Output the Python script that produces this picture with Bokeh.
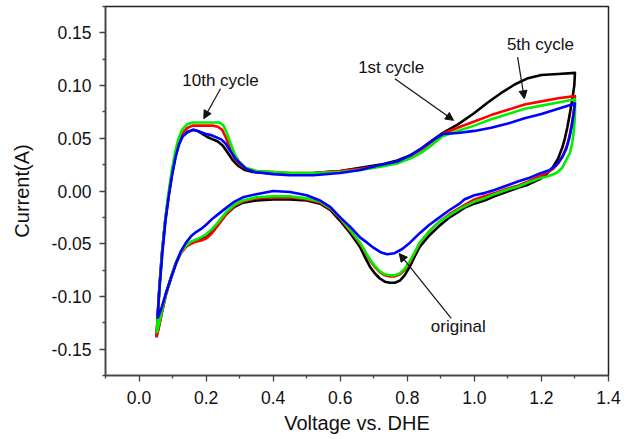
from bokeh.plotting import figure
from bokeh.models import Range1d, FixedTicker, PrintfTickFormatter, Label, Arrow, NormalHead
from bokeh.embed import file_html
from bokeh.resources import INLINE

# ---------------- data (Voltage vs. DHE, Current in A) ----------------
orig_x = [0.052, 0.060, 0.068, 0.078, 0.088, 0.098, 0.108, 0.118, 0.130, 0.145, 0.160, 0.175, 0.190, 0.205,
          0.220, 0.235, 0.250, 0.265, 0.280, 0.295, 0.315, 0.340, 0.380, 0.450, 0.520, 0.600, 0.660, 0.720,
          0.770, 0.810, 0.845, 0.875, 0.905, 0.950, 1.000, 1.040, 1.080, 1.120, 1.160, 1.200, 1.250, 1.300,
          1.298, 1.291, 1.284, 1.277, 1.270, 1.262, 1.250, 1.235, 1.215, 1.194, 1.160, 1.130, 1.095, 1.060,
          1.030, 1.000, 0.970, 0.956, 0.926, 0.896, 0.866, 0.837, 0.822, 0.807, 0.792, 0.778, 0.763, 0.748,
          0.733, 0.718, 0.703, 0.689, 0.674, 0.659, 0.630, 0.599, 0.570, 0.540, 0.500, 0.450, 0.400, 0.350,
          0.310, 0.285, 0.260, 0.235, 0.215, 0.200, 0.185, 0.170, 0.155, 0.140, 0.125, 0.110, 0.095, 0.080,
          0.068, 0.058, 0.052]
orig_y = [-0.138, -0.095, -0.060, -0.028, -0.005, 0.015, 0.032, 0.044, 0.052, 0.056, 0.058, 0.057, 0.054, 0.051,
          0.049, 0.047, 0.043, 0.036, 0.029, 0.024, 0.020, 0.018, 0.017, 0.016, 0.017, 0.019, 0.022, 0.025,
          0.029, 0.034, 0.041, 0.048, 0.055, 0.063, 0.074, 0.084, 0.093, 0.101, 0.107, 0.110, 0.111, 0.112,
          0.100, 0.085, 0.072, 0.060, 0.050, 0.041, 0.031, 0.023, 0.016, 0.011, 0.006, 0.003, -0.001, -0.005,
          -0.009, -0.012, -0.016, -0.019, -0.025, -0.033, -0.042, -0.053, -0.062, -0.072, -0.080, -0.085, -0.087, -0.087,
          -0.086, -0.083, -0.078, -0.072, -0.063, -0.053, -0.040, -0.028, -0.018, -0.012, -0.009, -0.008, -0.008, -0.009,
          -0.011, -0.015, -0.022, -0.032, -0.040, -0.044, -0.046, -0.047, -0.049, -0.052, -0.058, -0.068, -0.082, -0.098,
          -0.115, -0.130, -0.138]

c1_x = [0.052, 0.060, 0.068, 0.078, 0.088, 0.098, 0.108, 0.118, 0.130, 0.145, 0.160, 0.180, 0.200, 0.220,
        0.235, 0.248, 0.260, 0.272, 0.285, 0.300, 0.320, 0.350, 0.400, 0.450, 0.520, 0.600, 0.660, 0.720,
        0.770, 0.810, 0.845, 0.875, 0.905, 0.950, 1.000, 1.050, 1.100, 1.150, 1.200, 1.250, 1.300,
        1.298, 1.292, 1.285, 1.277, 1.266, 1.252, 1.235, 1.215, 1.194, 1.160, 1.130, 1.095, 1.060, 1.030,
        1.000, 0.956, 0.926, 0.896, 0.866, 0.837, 0.822, 0.807, 0.792, 0.778, 0.763, 0.748, 0.733, 0.718,
        0.703, 0.689, 0.674, 0.659, 0.630, 0.599, 0.570, 0.540, 0.500, 0.450, 0.400, 0.350, 0.310, 0.285,
        0.260, 0.235, 0.215, 0.200, 0.185, 0.170, 0.155, 0.140, 0.125, 0.110, 0.095, 0.080, 0.068, 0.058, 0.052]
c1_y = [-0.139, -0.095, -0.060, -0.028, -0.004, 0.017, 0.034, 0.047, 0.055, 0.060, 0.062, 0.062, 0.062, 0.062,
        0.061, 0.058, 0.050, 0.040, 0.031, 0.025, 0.021, 0.019, 0.018, 0.017, 0.017, 0.019, 0.021, 0.024,
        0.028, 0.033, 0.040, 0.047, 0.054, 0.060, 0.066, 0.072, 0.077, 0.082, 0.085, 0.088, 0.090,
        0.080, 0.066, 0.054, 0.044, 0.035, 0.027, 0.021, 0.017, 0.014, 0.009, 0.005, 0.002, -0.002, -0.005,
        -0.008, -0.016, -0.022, -0.029, -0.038, -0.050, -0.059, -0.068, -0.075, -0.079, -0.081, -0.081, -0.080, -0.077,
        -0.072, -0.066, -0.058, -0.050, -0.038, -0.026, -0.017, -0.011, -0.008, -0.006, -0.006, -0.007, -0.010, -0.014,
        -0.022, -0.033, -0.041, -0.045, -0.047, -0.048, -0.050, -0.053, -0.059, -0.069, -0.083, -0.099, -0.116, -0.131, -0.139]

c10_x = [0.053, 0.060, 0.068, 0.077, 0.087, 0.097, 0.107, 0.117, 0.128, 0.142, 0.160, 0.180, 0.200, 0.220,
         0.240, 0.252, 0.262, 0.272, 0.284, 0.298, 0.318, 0.350, 0.400, 0.450, 0.520, 0.600, 0.660, 0.720,
         0.770, 0.810, 0.845, 0.875, 0.905, 0.950, 1.000, 1.050, 1.100, 1.150, 1.200, 1.250, 1.300,
         1.300, 1.297, 1.292, 1.285, 1.275, 1.262, 1.245, 1.220, 1.194, 1.160, 1.130, 1.095, 1.060, 1.030,
         1.000, 0.956, 0.926, 0.896, 0.866, 0.837, 0.822, 0.807, 0.792, 0.778, 0.763, 0.748, 0.733, 0.718,
         0.703, 0.689, 0.674, 0.659, 0.630, 0.599, 0.570, 0.540, 0.500, 0.450, 0.400, 0.350, 0.310, 0.285,
         0.260, 0.235, 0.215, 0.200, 0.185, 0.170, 0.155, 0.140, 0.125, 0.110, 0.095, 0.080, 0.068, 0.058, 0.053]
c10_y = [-0.135, -0.097, -0.062, -0.030, -0.004, 0.018, 0.036, 0.049, 0.058, 0.063, 0.065, 0.065, 0.065, 0.065,
         0.065, 0.062, 0.055, 0.046, 0.036, 0.028, 0.022, 0.019, 0.018, 0.017, 0.017, 0.018, 0.020, 0.023,
         0.026, 0.031, 0.037, 0.044, 0.052, 0.057, 0.062, 0.068, 0.073, 0.078, 0.081, 0.084, 0.087,
         0.072, 0.058, 0.046, 0.036, 0.030, 0.022, 0.017, 0.014, 0.012, 0.008, 0.004, 0.001, -0.003, -0.007,
         -0.010, -0.017, -0.023, -0.029, -0.038, -0.049, -0.058, -0.067, -0.074, -0.078, -0.080, -0.080, -0.079, -0.076,
         -0.071, -0.065, -0.057, -0.049, -0.037, -0.025, -0.016, -0.010, -0.007, -0.005, -0.005, -0.006, -0.009, -0.013,
         -0.020, -0.030, -0.037, -0.041, -0.044, -0.046, -0.048, -0.052, -0.058, -0.068, -0.082, -0.098, -0.114, -0.128, -0.135]

c5_x = [0.055, 0.062, 0.070, 0.079, 0.089, 0.099, 0.109, 0.119, 0.130, 0.145, 0.163, 0.183, 0.200, 0.215,
        0.230, 0.245, 0.258, 0.272, 0.287, 0.302, 0.320, 0.345, 0.400, 0.450, 0.520, 0.600, 0.660, 0.710,
        0.770, 0.810, 0.845, 0.875, 0.906, 0.950, 1.000, 1.050, 1.100, 1.150, 1.200, 1.250, 1.300,
        1.296, 1.290, 1.283, 1.274, 1.262, 1.245, 1.225, 1.194, 1.160, 1.130, 1.095, 1.060, 1.030, 1.000,
        0.970, 0.956, 0.926, 0.896, 0.866, 0.837, 0.808, 0.785, 0.762, 0.740, 0.720, 0.700, 0.680, 0.659,
        0.630, 0.600, 0.570, 0.540, 0.500, 0.450, 0.400, 0.350, 0.310, 0.285, 0.260, 0.240, 0.220, 0.200,
        0.185, 0.170, 0.155, 0.140, 0.125, 0.110, 0.095, 0.080, 0.068, 0.060, 0.055]
c5_y = [-0.121, -0.088, -0.057, -0.028, -0.004, 0.016, 0.032, 0.044, 0.052, 0.056, 0.058, 0.056, 0.054, 0.053,
        0.051, 0.049, 0.045, 0.038, 0.031, 0.026, 0.021, 0.018, 0.016, 0.015, 0.015, 0.017, 0.020, 0.024,
        0.028, 0.034, 0.041, 0.048, 0.054, 0.055, 0.057, 0.060, 0.064, 0.069, 0.073, 0.078, 0.083,
        0.073, 0.061, 0.050, 0.040, 0.032, 0.025, 0.020, 0.0165, 0.012, 0.009, 0.005, 0.001, -0.002, -0.004,
        -0.008, -0.012, -0.018, -0.025, -0.032, -0.040, -0.049, -0.055, -0.059, -0.060, -0.058, -0.054, -0.049, -0.044,
        -0.034, -0.025, -0.015, -0.009, -0.004, -0.001, 0.000, -0.003, -0.006, -0.010, -0.016, -0.021, -0.026, -0.032,
        -0.036, -0.039, -0.043, -0.049, -0.057, -0.069, -0.083, -0.097, -0.110, -0.117, -0.121]

x_ticks = [0.0, 0.2, 0.4, 0.6, 0.8, 1.0, 1.2, 1.4]
x_minor = [-0.1, 0.1, 0.3, 0.5, 0.7, 0.9, 1.1, 1.3]
y_ticks = [-0.15, -0.10, -0.05, 0.00, 0.05, 0.10, 0.15]
y_minor = [-0.175, -0.125, -0.075, -0.025, 0.025, 0.075, 0.125, 0.175]

# annotations: text, text position, arrow start, arrow end
ann_text = ["10th cycle", "1st cycle", "5th cycle", "original"]
ann_tx = [0.243, 0.752, 1.197, 0.952]
ann_ty = [0.105, 0.1174, 0.1386, -0.1288]
arr_x0 = [0.243, 0.763, 1.129, 0.931]
arr_y0 = [0.097, 0.1064, 0.127, -0.1208]
arr_x1 = [0.193, 0.938, 1.149, 0.776]
arr_y1 = [0.0686, 0.067, 0.0875, -0.0593]

FONT = "Liberation Sans"

p = figure(width=630, height=439, output_backend="svg", toolbar_location=None,
           x_range=Range1d(-0.1, 1.4), y_range=Range1d(-0.175, 0.175),
           min_border_left=105, min_border_right=22, min_border_top=6, min_border_bottom=64)
p.background_fill_color = "white"
p.border_fill_color = "white"
p.xgrid.visible = False
p.ygrid.visible = False
p.outline_line_color = "#222222"
p.outline_line_width = 1.5

for xs, ys, col in [(orig_x, orig_y, "#000000"), (c1_x, c1_y, "#ff0000"),
                    (c10_x, c10_y, "#00ee00"), (c5_x, c5_y, "#0000ff")]:
    p.line(xs, ys, line_color=col, line_width=2.6, line_join="round")

p.xaxis.ticker = FixedTicker(ticks=x_ticks, minor_ticks=x_minor)
p.yaxis.ticker = FixedTicker(ticks=y_ticks, minor_ticks=y_minor)
p.xaxis.formatter = PrintfTickFormatter(format="%.1f")
p.yaxis.formatter = PrintfTickFormatter(format="%.2f")
p.xaxis.axis_label = "Voltage vs. DHE"
p.yaxis.axis_label = "Current(A)"

for ax in (p.xaxis, p.yaxis):
    ax.axis_line_color = "#444444"
    ax.axis_line_width = 1.5
    ax.major_tick_line_color = "#444444"
    ax.minor_tick_line_color = "#444444"
    ax.major_tick_line_width = 1.3
    ax.minor_tick_line_width = 1.3
    ax.major_tick_out = 6
    ax.major_tick_in = 0
    ax.minor_tick_out = 3
    ax.minor_tick_in = 0
    ax.major_label_text_font = FONT
    ax.major_label_text_font_size = "17.5px"
    ax.major_label_text_color = "#111111"
    ax.axis_label_text_font = FONT
    ax.axis_label_text_font_size = "20px"
    ax.axis_label_text_font_style = "normal"
    ax.axis_label_text_color = "#111111"

p.xaxis.major_label_standoff = 9
p.yaxis.major_label_standoff = 8
p.xaxis.axis_label_standoff = 5
p.yaxis.axis_label_standoff = 16

for i in range(len(ann_text)):
    p.add_layout(Arrow(end=NormalHead(size=8, fill_color="#111111", line_color="#111111"),
                       x_start=arr_x0[i], y_start=arr_y0[i], x_end=arr_x1[i], y_end=arr_y1[i],
                       line_color="#111111", line_width=1.2))
    p.add_layout(Label(x=ann_tx[i], y=ann_ty[i], text=ann_text[i], text_align="center",
                       text_baseline="middle", text_font=FONT, text_font_size="17px",
                       text_color="#111111"))

open("out.html", "w").write(file_html(p, INLINE))
